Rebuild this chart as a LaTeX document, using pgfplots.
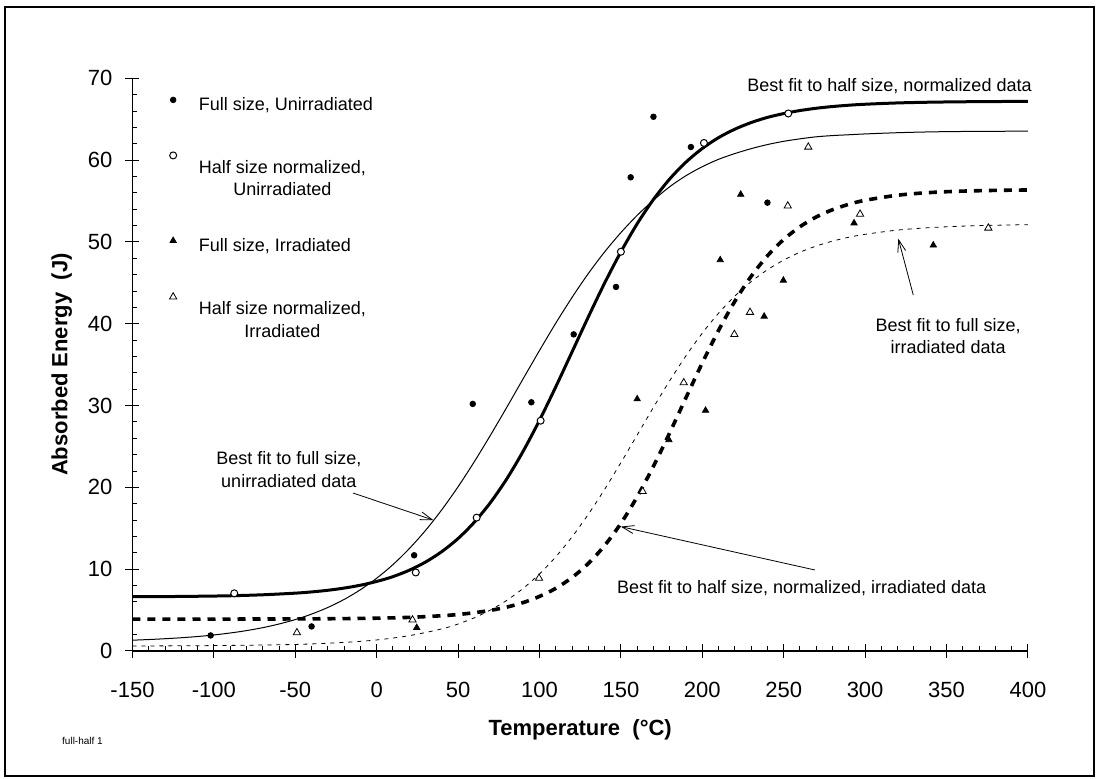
\documentclass[border=0pt]{standalone}
\usepackage{pgfplots}
\pgfplotsset{compat=1.18}
\usepackage{fontspec}
\setmainfont{Liberation Sans}
\usetikzlibrary{arrows.meta}

\pgfplotstableread{
T y
-102 1.9
-40 3.0
23 11.7
59 30.2
95 30.4
121 38.7
147 44.5
156 57.9
170 65.3
193 61.6
240 54.8
}\fullunirr
\pgfplotstableread{
T y
-87.5 7.05
24 9.6
61.4 16.3
100.7 28.15
150 48.8
201 62.1
252.8 65.7
}\halfunirr
\pgfplotstableread{
T y
24.6 2.85
160 30.8
179.5 25.8
202 29.4
211 47.8
223.6 55.8
238 40.9
249.8 45.3
293.2 52.3
341.9 49.6
}\fullirr
\pgfplotstableread{
T y
-49 2.24
22 3.8
99.7 8.9
163.4 19.5
188.6 32.8
219.7 38.7
229.3 41.4
252.5 54.4
265.1 61.6
296.9 53.4
375.7 51.7
}\halfirr

\pgfplotstableread{
T y
-150 6.63
-130 6.65
-110 6.69
-90 6.75
-70 6.87
-50 7.07
-40 7.22
-30 7.42
-20 7.69
-10 8.04
0 8.50
10 9.09
20 9.87
30 10.87
40 12.15
50 13.75
60 15.75
70 18.18
80 21.07
90 24.43
100 28.20
110 32.29
120 36.56
130 40.84
140 44.97
150 48.79
160 52.22
170 55.19
180 57.70
190 59.76
200 61.42
210 62.75
220 63.78
230 64.59
240 65.22
250 65.69
260 66.06
270 66.34
280 66.55
290 66.71
300 66.83
320 66.99
340 67.08
360 67.13
380 67.16
400 67.18
}\fitA
\pgfplotstableread{
T y
-150 1.32
-140 1.40
-130 1.50
-120 1.62
-110 1.77
-100 1.96
-90 2.20
-80 2.49
-70 2.85
-60 3.30
-50 3.84
-40 4.51
-30 5.32
-20 6.30
-10 7.49
0 8.90
10 10.56
20 12.51
30 14.74
40 17.27
50 20.08
60 23.15
70 26.42
80 29.82
90 33.29
100 36.73
110 40.07
120 43.22
130 46.14
140 48.78
150 51.14
160 53.25
170 55.10
180 56.75
190 58.10
200 59.20
210 60.10
220 60.80
230 61.40
240 61.90
250 62.30
260 62.60
270 62.85
280 63.00
290 63.10
300 63.20
320 63.35
340 63.45
360 63.50
380 63.52
400 63.55
}\fitB
\pgfplotstableread{
T y
-150 3.90
-100 3.90
-50 3.92
-20 3.96
0 4.01
20 4.11
40 4.31
50 4.46
60 4.68
70 4.97
80 5.37
90 5.92
100 6.67
110 7.66
120 8.98
130 10.70
140 12.89
150 15.60
160 18.85
170 22.58
180 26.68
190 30.97
200 35.21
210 39.19
220 42.75
230 45.79
240 48.30
250 50.30
260 51.86
270 53.05
280 53.94
290 54.60
300 55.09
320 55.71
340 56.04
360 56.21
380 56.30
400 56.35
}\fitC
\pgfplotstableread{
T y
-150 0.61
-100 0.66
-50 0.80
-20 1.05
0 1.35
20 1.87
40 2.70
50 3.30
60 4.06
70 5.02
80 6.20
90 7.66
100 9.42
110 11.51
120 13.95
130 16.71
140 19.76
150 23.02
160 26.40
170 29.78
180 33.04
190 36.09
200 38.85
210 41.29
220 43.38
230 45.14
240 46.60
250 47.78
260 48.74
270 49.50
280 50.10
290 50.57
300 50.93
320 51.45
340 51.75
360 51.93
380 52.04
400 52.11
}\fitD

\begin{document}
\begin{tikzpicture}
\useasboundingbox (-66.25pt,-64pt) rectangle (482.25pt,325.5pt);
\draw[line width=0.9pt] (-63.75pt,-62.5pt) rectangle (480.75pt,322pt);
\begin{axis}[
  at={(0pt,0pt)}, anchor=south west,
  scale only axis, width=447.7pt, height=286.35pt,
  xmin=-150, xmax=400, ymin=0, ymax=70,
  axis lines=left, axis line style={-, line width=0.7pt},
  xtick={-150,-100,...,400}, ytick={0,10,...,70},
  minor x tick num=4, minor y tick num=4,
  tick align=center, major tick length=7pt, minor tick length=2.5pt,
  every tick/.style={black, line width=0.5pt},
  minor x tick style={yshift=1.25pt},
  minor y tick style={xshift=1.25pt},
  /pgf/number format/assume math mode=true,
  ticklabel style={font=\fontsize{11}{13}\selectfont},
  xticklabel style={yshift=-8.5pt},
  yticklabel style={xshift=-3pt},
  xlabel={Temperature~~(°C)}, ylabel={Absorbed Energy~~(J)},
  label style={font=\fontsize{11}{13}\selectfont\bfseries},
  xlabel style={at={(axis description cs:0.5,0)}, anchor=center, yshift=-39.5pt},
  ylabel style={at={(axis description cs:-0.079,0.5)}, anchor=center},
  clip=false,
  legend style={draw=none, fill=none, at={(axis cs:-127.5,67.9)}, anchor=north west,
    font=\fontsize{9}{11.2}\selectfont, row sep=18pt, column sep=10pt, inner sep=0pt,
    nodes={align=center, inner sep=1pt}},
  legend cell align=left,
  one/.style={legend image code/.code={\draw[##1] plot coordinates {(0pt,3pt)};}},
  two/.style={legend image code/.code={\draw[##1] plot coordinates {(0pt,12pt)};}},
]
\addplot[black, line width=1.5pt, smooth, forget plot] table[x=T,y=y] {\fitA};
\addplot[black, line width=0.5pt, smooth, forget plot] table[x=T,y=y] {\fitB};
\addplot[black, line width=1.8pt, dash pattern=on 4pt off 3.5pt, smooth, forget plot] table[x=T,y=y] {\fitC};
\addplot[black, line width=0.4pt, dash pattern=on 2pt off 2.5pt, smooth, forget plot] table[x=T,y=y] {\fitD};

\addplot[only marks, mark=*, mark size=1.4pt, black, one] table[x=T,y=y] {\fullunirr};
\addlegendentry{Full size, Unirradiated}
\addplot[only marks, mark=*, mark size=1.75pt, draw=black, fill=white, line width=0.5pt, two] table[x=T,y=y] {\halfunirr};
\addlegendentry{Half size normalized,\\Unirradiated}
\addplot[only marks, mark=triangle*, mark size=1.8pt, black, one] table[x=T,y=y] {\fullirr};
\addlegendentry{Full size, Irradiated}
\addplot[only marks, mark=triangle*, mark size=2.1pt, draw=black, fill=white, line width=0.4pt, two] table[x=T,y=y] {\halfirr};
\addlegendentry{Half size normalized,\\Irradiated}

\begin{scope}[font=\fontsize{9}{11.2}\selectfont]
\node[anchor=east, inner sep=0pt] at (axis cs:402.5,69.0) {Best fit to half size, normalized data};
\node[align=center, inner sep=0pt] at (axis cs:351,38.5) {Best fit to full size,\\irradiated data};
\node[align=center, inner sep=0pt] at (axis cs:-54,22.2) {Best fit to full size,\\unirradiated data};
\node[anchor=west, inner sep=0pt] at (axis cs:147.4,7.66) {Best fit to half size, normalized, irradiated data};
\end{scope}
\draw[-{Straight Barb[length=6pt,width=4pt]}, line width=0.4pt] (axis cs:329.6,43.5) -- (axis cs:320.4,50.4);
\draw[-{Straight Barb[length=6pt,width=4pt]}, line width=0.4pt] (axis cs:-14.4,19.3) -- (axis cs:34.8,16.0);
\draw[-{Straight Barb[length=6pt,width=4pt]}, line width=0.4pt] (axis cs:269.2,9.9) -- (axis cs:149.9,15.2);
\end{axis}
\node[font=\fontsize{5}{6}\selectfont] at (-25pt,-45pt) {full-half 1};
\end{tikzpicture}
\end{document}
